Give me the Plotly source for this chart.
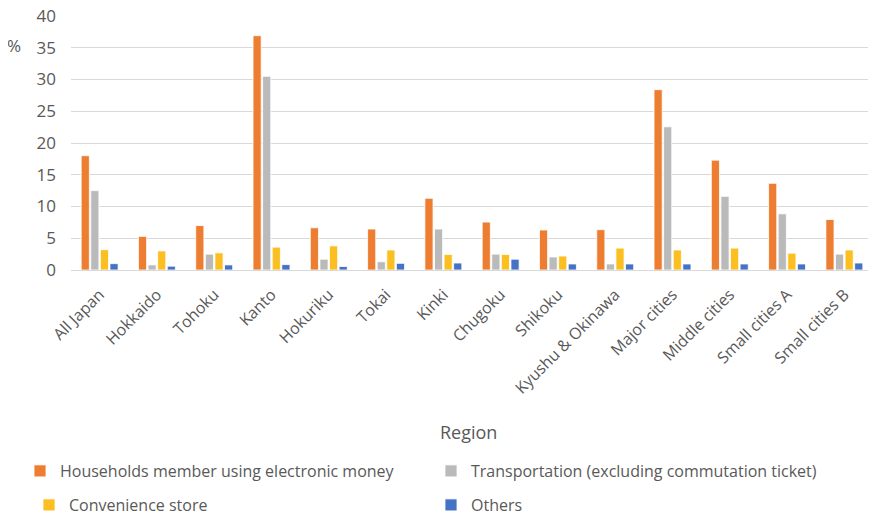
import plotly.graph_objects as go

categories = ["All Japan", "Hokkaido", "Tohoku", "Kanto", "Hokuriku", "Tokai", "Kinki",
              "Chugoku", "Shikoku", "Kyushu & Okinawa", "Major cities", "Middle cities",
              "Small cities A", "Small cities B"]
households = [18.0, 5.3, 7.0, 36.9, 6.65, 6.45, 11.3, 7.55, 6.3, 6.35, 28.4, 17.3, 13.65, 7.95]
transportation = [12.5, 0.8, 2.5, 30.5, 1.7, 1.3, 6.45, 2.5, 2.05, 0.95, 22.55, 11.6, 8.85, 2.5]
convenience = [3.2, 3.0, 2.7, 3.6, 3.8, 3.15, 2.45, 2.45, 2.2, 3.45, 3.15, 3.45, 2.65, 3.15]
others = [1.0, 0.6, 0.8, 0.85, 0.55, 1.05, 1.1, 1.7, 0.95, 0.95, 0.95, 0.95, 0.95, 1.1]
y_ticks = [0, 5, 10, 15, 20, 25, 30, 35, 40]

series = [
    ("Households member using electronic money", households, "#ED7D31", "legend"),
    ("Transportation (excluding commutation ticket)", transportation, "#BABABA", "legend2"),
    ("Convenience store", convenience, "#FBBF22", "legend3"),
    ("Others", others, "#4472C4", "legend4"),
]

font_family = "'Open Sans', Lato, sans-serif"
txt_color = "#595959"

# page body has an 8px margin: work in reference pixels, shift by OFF
OFF = 8
W, H = 876 - OFF, 517 - OFF
L, R, T, B = 71 - OFF, 3, 15.5 - OFF, 247
pw = W - L - R
ph = H - T - B

def py(pix):
    return (H - B - (pix - OFF)) / ph

def px(pix):
    return (pix - OFF - L) / pw

fig = go.Figure()
for name, vals, color, lg in series:
    fig.add_trace(go.Bar(
        x=categories, y=vals, name=name, legend=lg,
        marker=dict(color=color, line=dict(color="white", width=0.8)),
    ))

def leg(left, ycen):
    return dict(
        xref="container", yref="container", x=(left - OFF) / W, xanchor="left",
        y=1 - (ycen - OFF) / H, yanchor="middle", orientation="v",
        font=dict(size=16, color=txt_color, family=font_family),
        bgcolor="rgba(0,0,0,0)", borderwidth=0,
    )

fig.update_layout(
    width=W, height=H,
    margin=dict(l=L, r=R, t=T, b=B, autoexpand=False),
    paper_bgcolor="white", plot_bgcolor="white",
    barmode="group", bargap=0.33, bargroupgap=0.15,
    font=dict(family=font_family, color=txt_color, size=15),
    xaxis=dict(
        tickangle=-45, showgrid=False, showline=True, linecolor="#D9D9D9", linewidth=1,
        tickfont=dict(size=16, color=txt_color), ticks="", automargin=False,
        ticklabelstandoff=8,
    ),
    yaxis=dict(
        range=[0, 40], tickvals=y_ticks, showgrid=True, gridcolor="#D9D9D9", gridwidth=1.3,
        zeroline=False, tickfont=dict(size=17, color=txt_color), ticklabelstandoff=14,
        automargin=False, ticklabeloverflow="allow",
    ),
    showlegend=True,
    legend=leg(20, 471),
    legend2=leg(431, 471),
    legend3=leg(29, 505),
    legend4=leg(431, 505),
    annotations=[
        dict(text="%", xref="paper", yref="paper", x=px(14), y=py(45), showarrow=False,
             font=dict(size=17, color=txt_color), xanchor="center", yanchor="middle"),
        dict(text="Region", xref="paper", yref="paper", x=px(468), y=py(432), showarrow=False,
             font=dict(size=18, color=txt_color), xanchor="center", yanchor="middle"),
    ],
)

fig.write_html("out.html")
